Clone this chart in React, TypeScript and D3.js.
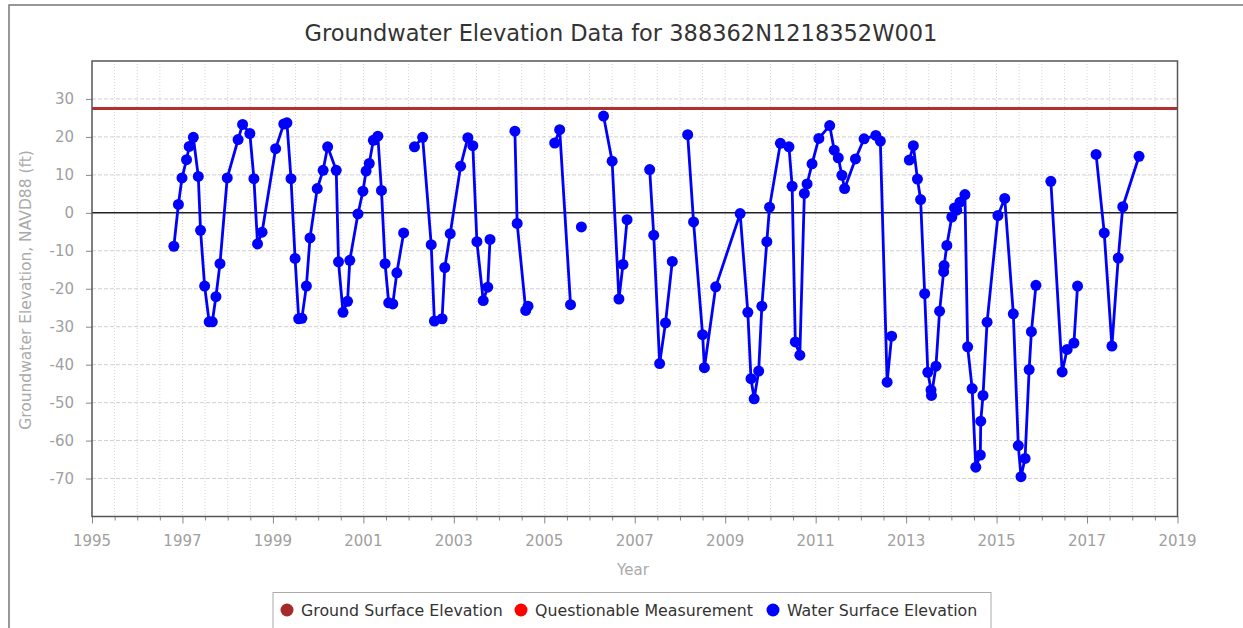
import React, { useEffect, useRef } from 'react';
import * as d3 from 'd3';

// decimal year of each reading; null breaks the line
const dates: number[] = [
  1996.81, 1996.91, 1996.99, 1997.09, 1997.15, 1997.24, 1997.35, 1997.40, 1997.49, 1997.59,
  1997.66, 1997.74, 1997.83, 1997.99, 1998.23, 1998.33, 1998.49, 1998.58, 1998.66, 1998.76,
  1999.06, 1999.24, 1999.31, 1999.40, 1999.49, 1999.57, 1999.64, 1999.74, 1999.82, 1999.98,
  2000.11, 2000.21, 2000.40, 2000.45, 2000.55, 2000.65, 2000.70, 2000.88, 2000.99, 2001.06,
  2001.13, 2001.22, 2001.32, 2001.40, 2001.48, 2001.56, 2001.65, 2001.74, 2001.89, 2002.0,
  2002.13, 2002.31, 2002.50, 2002.57, 2002.74, 2002.80, 2002.92, 2003.15, 2003.31, 2003.42,
  2003.51, 2003.65, 2003.75, 2003.80, 2004.0,
  2004.35, 2004.40, 2004.59, 2004.64, 2004.9,
  2005.23, 2005.34, 2005.58, 2005.7,
  2005.82, 2006.0,
  2006.31, 2006.50, 2006.65, 2006.74, 2006.83, 2007.0,
  2007.33, 2007.42, 2007.55, 2007.68, 2007.83, 2008.0,
  2008.17, 2008.30, 2008.50, 2008.54, 2008.79, 2009.33, 2009.50, 2009.57, 2009.64, 2009.74,
  2009.81, 2009.92, 2009.98, 2010.22, 2010.41, 2010.48, 2010.55, 2010.65, 2010.75, 2010.81,
  2010.92, 2011.07, 2011.31, 2011.41, 2011.50, 2011.58, 2011.64, 2011.88, 2012.07, 2012.33,
  2012.43, 2012.58, 2012.68, 2012.8,
  2013.07, 2013.16, 2013.25, 2013.32, 2013.41, 2013.48, 2013.55, 2013.56, 2013.66, 2013.74,
  2013.83, 2013.84, 2013.90, 2014.01, 2014.07, 2014.12, 2014.19, 2014.30, 2014.36, 2014.46,
  2014.54, 2014.64, 2014.65, 2014.70, 2014.79, 2015.03, 2015.18, 2015.37, 2015.48, 2015.54,
  2015.63, 2015.72, 2015.77, 2015.87, 2016.0,
  2016.20, 2016.45, 2016.56, 2016.71, 2016.79, 2017.0,
  2017.20, 2017.38, 2017.55, 2017.69, 2017.79, 2018.15,
];

const waterElev: (number | null)[] = [
  -8.8, 2.2, 9.2, 14.0, 17.5, 19.9, 9.6, -4.6, -19.3, -28.7,
  -28.7, -22.1, -13.4, 9.2, 19.3, 23.3, 20.9, 9.0, -8.2, -5.1,
  16.9, 23.4, 23.7, 9.0, -12.0, -27.9, -27.8, -19.3, -6.6, 6.4,
  11.2, 17.4, 11.2, -12.9, -26.2, -23.3, -12.5, -0.3, 5.7, 11.0,
  13.0, 19.1, 20.2, 5.9, -13.4, -23.7, -24.0, -15.8, -5.3, null,
  17.4, 19.9, -8.4, -28.5, -27.9, -14.4, -5.5, 12.3, 19.8, 17.7,
  -7.6, -23.1, -19.6, -7.0, null,
  21.5, -2.8, -25.7, -24.6, null,
  18.4, 21.9, -24.2, null,
  -3.7, null,
  25.5, 13.6, -22.7, -13.6, -1.8, null,
  11.4, -5.9, -39.7, -29.0, -12.8, null,
  20.6, -2.4, -32.1, -40.8, -19.5, -0.2, -26.2, -43.7, -49.0, -41.7,
  -24.6, -7.6, 1.5, 18.3, 17.4, 7.0, -34.0, -37.5, 5.1, 7.6,
  12.9, 19.6, 23.0, 16.5, 14.5, 9.9, 6.4, 14.2, 19.5, 20.4,
  18.9, -44.6, -32.5, null,
  13.9, 17.7, 8.9, 3.5, -21.3, -42.0, -46.7, -48.1, -40.4, -25.9,
  -15.5, -13.9, -8.6, -1.1, 1.3, 0.7, 2.8, 4.8, -35.3, -46.3,
  -67.0, -63.8, -54.9, -48.1, -28.8, -0.7, 3.8, -26.6, -61.3, -69.5,
  -64.7, -41.3, -31.3, -19.1, null,
  8.3, -41.9, -36.0, -34.3, -19.3, null,
  15.4, -5.3, -35.1, -11.9, 1.6, 14.9,
];

const groundSurface = 27.5;
const yTicks = [30, 20, 10, 0, -10, -20, -30, -40, -50, -60, -70];
const xLabelYears = [1995, 1997, 1999, 2001, 2003, 2005, 2007, 2009, 2011, 2013, 2015, 2017, 2019];
const legendItems = [
  { label: 'Ground Surface Elevation', color: '#a52a2a' },
  { label: 'Questionable Measurement', color: '#ff0000' },
  { label: 'Water Surface Elevation', color: '#0000ff' },
];

const W = 1243, H = 628;
const FONT = 'DejaVu Sans, Verdana, sans-serif';

function GroundwaterChart() {
  const ref = useRef<SVGSVGElement>(null);

  useEffect(() => {
    const svg = d3.select(ref.current);
    svg.selectAll('*').remove();

    const left = 92, right = 1177.5, top = 61, bottom = 516.5;
    const x = d3.scaleLinear().domain([1995, 2019]).range([left, right]);
    const y = d3.scaleLinear().domain([-80, 40]).range([bottom, top]);

    // outer frame
    svg.append('rect')
      .attr('x', 9).attr('y', 5).attr('width', W + 20).attr('height', H + 20)
      .attr('fill', '#fff').attr('stroke', '#777').attr('stroke-width', 1.5);

    svg.append('text')
      .attr('x', 621).attr('y', 41)
      .attr('text-anchor', 'middle')
      .style('font-family', FONT).style('font-size', '22.5px')
      .attr('fill', '#333')
      .text('Groundwater Elevation Data for 388362N1218352W001');

    // grid
    const halfYears = d3.range(1995.5, 2019, 0.5);
    svg.append('g').selectAll('line').data(halfYears).join('line')
      .attr('x1', d => x(d)).attr('x2', d => x(d))
      .attr('y1', top).attr('y2', bottom)
      .attr('stroke', '#d4d4d4').attr('stroke-width', 1).attr('stroke-dasharray', '1,2');

    svg.append('g').selectAll('line').data(yTicks.filter(d => d !== 0)).join('line')
      .attr('x1', left).attr('x2', right)
      .attr('y1', d => y(d)).attr('y2', d => y(d))
      .attr('stroke', '#d0d0d0').attr('stroke-width', 1).attr('stroke-dasharray', '4,2');

    // x axis
    const xAxis = svg.append('g').attr('transform', `translate(0,${bottom})`)
      .call(d3.axisBottom(x).tickValues(d3.range(1995, 2019.01, 0.5)).tickSize(4).tickFormat(() => ''));
    xAxis.select('.domain').remove();
    xAxis.selectAll('.tick line').attr('stroke', '#888');
    xAxis.selectAll('.tick').filter((d: any) => xLabelYears.includes(d)).select('line').attr('y2', 7);

    svg.append('g').selectAll('text').data(xLabelYears).join('text')
      .attr('x', d => x(d)).attr('y', 546)
      .attr('text-anchor', 'middle')
      .style('font-family', FONT).style('font-size', '15px')
      .attr('fill', '#a0a0a0')
      .text(d => String(d));

    // y axis
    const yAxis = svg.append('g').attr('transform', `translate(${left},0)`)
      .call(d3.axisLeft(y).tickValues(yTicks).tickSize(6).tickPadding(12).tickFormat(d => String(d)));
    yAxis.select('.domain').remove();
    yAxis.selectAll('.tick line').attr('stroke', '#888');
    yAxis.selectAll('.tick text')
      .style('font-family', FONT).style('font-size', '15px').attr('fill', '#a0a0a0');

    svg.append('text')
      .attr('transform', `translate(31,290) rotate(-90)`)
      .attr('text-anchor', 'middle')
      .style('font-family', FONT).style('font-size', '15.5px')
      .attr('fill', '#aaa')
      .text('Groundwater Elevation, NAVD88 (ft)');

    svg.append('text')
      .attr('x', 633).attr('y', 575)
      .attr('text-anchor', 'middle')
      .style('font-family', FONT).style('font-size', '15px')
      .attr('fill', '#aaa')
      .text('Year');

    // zero line and ground surface
    svg.append('line')
      .attr('x1', left).attr('x2', right).attr('y1', y(0)).attr('y2', y(0))
      .attr('stroke', '#222').attr('stroke-width', 1.5);

    svg.append('line')
      .attr('x1', left).attr('x2', right)
      .attr('y1', y(groundSurface)).attr('y2', y(groundSurface))
      .attr('stroke', '#b03030').attr('stroke-width', 3);

    // water surface series
    const pts = dates.map((d, i) => ({ d, v: waterElev[i] }));
    const line = d3.line<{ d: number; v: number | null }>()
      .defined(p => p.v !== null)
      .x(p => x(p.d))
      .y(p => y(p.v as number));

    svg.append('path')
      .attr('d', line(pts))
      .attr('fill', 'none')
      .attr('stroke', '#0000ff')
      .attr('stroke-width', 2.8)
      .attr('stroke-linejoin', 'round');

    svg.append('g').selectAll('circle').data(pts.filter(p => p.v !== null)).join('circle')
      .attr('cx', p => x(p.d)).attr('cy', p => y(p.v as number))
      .attr('r', 5.5)
      .attr('fill', '#0000ff');

    // plot border
    svg.append('rect')
      .attr('x', left).attr('y', top).attr('width', right - left).attr('height', bottom - top)
      .attr('fill', 'none').attr('stroke', '#555').attr('stroke-width', 1.5);

    // legend
    svg.append('rect')
      .attr('x', 273).attr('y', 592.5).attr('width', 718).attr('height', 50)
      .attr('fill', '#fff').attr('stroke', '#aaa').attr('stroke-width', 1);

    const legendX = [287, 521, 773];
    const lg = svg.append('g').selectAll('g').data(legendItems).join('g')
      .attr('transform', (_, i) => `translate(${legendX[i]},610)`);
    lg.append('circle').attr('r', 6.5).attr('fill', d => d.color);
    lg.append('text')
      .attr('x', 14).attr('y', 5.5)
      .style('font-family', FONT).style('font-size', '15.8px')
      .attr('fill', '#333')
      .text(d => d.label);
  }, []);

  return (
    <svg ref={ref} width={W} height={H}
      style={{ position: 'absolute', left: 0, top: 0, background: '#fff' }} />
  );
}

export default function App() {
  return <GroundwaterChart />;
}
